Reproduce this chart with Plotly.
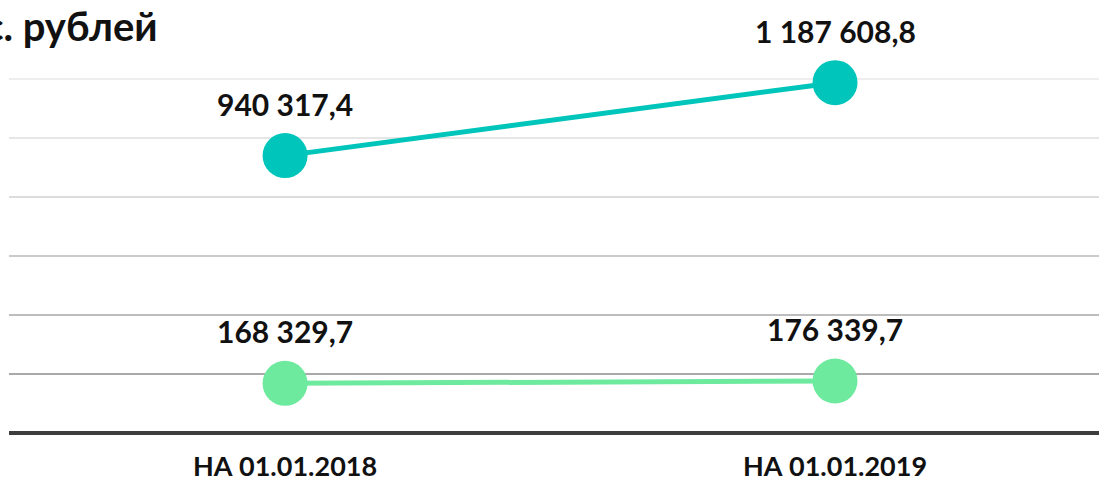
import plotly.graph_objects as go

# Даты отчётов и значения показателей, тыс. рублей
categories = ["НА 01.01.2018", "НА 01.01.2019"]
series_top = [940317.4, 1187608.8]
series_bottom = [168329.7, 176339.7]
grid_values = [200000, 400000, 600000, 800000, 1000000, 1200000]
grid_colors = ["#a9a9a9", "#bdbdbd", "#cbcbcb", "#dcdcdc", "#e6e6e6", "#eeeeee"]

TEAL = "#00C5BB"
GREEN = "#6EEA9F"
FONT = "Lato"


def fmt(v):
    whole, frac = f"{v:.1f}".split(".")
    groups = []
    while whole:
        groups.insert(0, whole[-3:])
        whole = whole[:-3]
    return " ".join(groups) + "," + frac


fig = go.Figure()

for values, color in ((series_top, TEAL), (series_bottom, GREEN)):
    fig.add_trace(go.Scatter(
        x=categories, y=values, mode="lines+markers",
        line=dict(color=color, width=5),
        marker=dict(color=color, size=45),
        cliponaxis=False, showlegend=False, hoverinfo="skip",
    ))
    for c, v in zip(categories, values):
        fig.add_annotation(
            x=c, y=v, text=f"<b>{fmt(v)}</b>", showarrow=False,
            yshift=52, font=dict(family=FONT, size=30, color="#111111"),
        )

# горизонтальные линии сетки, темнеющие книзу
for gv, gc in zip(grid_values, grid_colors):
    fig.add_shape(type="line", xref="paper", x0=0, x1=1, yref="y", y0=gv, y1=gv,
                  line=dict(color=gc, width=2), layer="below")

# базовая линия оси
fig.add_shape(type="line", xref="paper", x0=0, x1=1, yref="y", y0=0, y1=0,
              line=dict(color="#3d3d3d", width=4), layer="below")

fig.add_annotation(
    xref="paper", yref="paper", x=0.1385, y=1.118, xanchor="right", yanchor="middle",
    text="<b>тыс. рублей</b>", showarrow=False,
    font=dict(family=FONT, size=40, color="#111111"),
)

fig.update_layout(
    width=1099, height=484,
    margin=dict(l=9, r=0, t=70, b=45, autoexpand=False),
    paper_bgcolor="white", plot_bgcolor="white",
    xaxis=dict(range=[-0.502, 1.480], showgrid=False, zeroline=False, showline=False,
               automargin=False,
               ticks="outside", ticklen=4, tickcolor="rgba(0,0,0,0)",
               tickfont=dict(family=FONT, size=27, color="#111111"),
               tickvals=categories, ticktext=[f"<b>{c}</b>" for c in categories]),
    yaxis=dict(range=[-20339, 1230508], showgrid=False, zeroline=False, showline=False,
               automargin=False, showticklabels=False),
)

fig.write_html("out.html")
